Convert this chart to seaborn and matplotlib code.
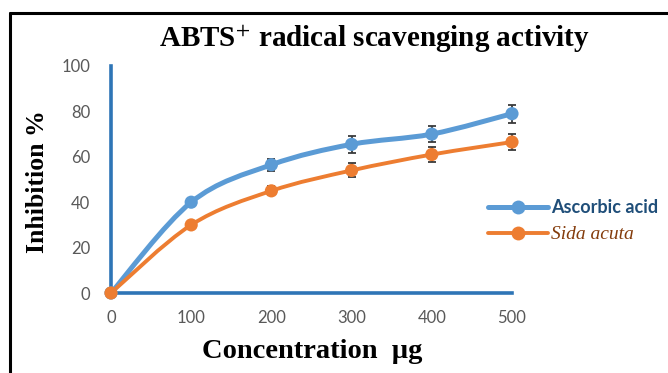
import numpy as np
import pandas as pd
import matplotlib
matplotlib.use("Agg")
import matplotlib.pyplot as plt
from matplotlib.path import Path
from matplotlib.patches import PathPatch
from matplotlib.lines import Line2D
import seaborn as sns

concentration = [0, 100, 200, 300, 400, 500]
ascorbic_acid = [0, 40, 56.5, 65.5, 70, 79]
ascorbic_err = [0, 1.0, 2.7, 3.8, 3.7, 3.9]
sida_acuta = [0, 30, 45, 54, 61, 66.5]
sida_err = [0, 1.0, 2.0, 3.1, 3.4, 3.5]
series_names = ["Ascorbic acid", "Sida acuta"]
x_ticks = [0, 100, 200, 300, 400, 500]
y_ticks = [0, 20, 40, 60, 80, 100]

BLUE = "#5B9BD5"
ORANGE = "#ED7D31"
AXIS_BLUE = "#2E75B6"

df = pd.DataFrame({
    "conc": concentration * 2,
    "value": ascorbic_acid + sida_acuta,
    "err": ascorbic_err + sida_err,
    "series": [series_names[0]] * 6 + [series_names[1]] * 6,
})

sns.set_style("white")
plt.rcParams["font.family"] = ["Lato", "DejaVu Sans"]

fig = plt.figure(figsize=(6.68, 3.73), dpi=100)
ax = fig.add_axes([111 / 668, 1 - 293 / 373, 401 / 668, 227 / 373])


def smooth_path(xs, ys, tension=1 / 6):
    """Cubic Bezier through the points (Catmull-Rom style smoothing)."""
    pts = np.column_stack([xs, ys]).astype(float)
    n = len(pts)
    verts = [pts[0]]
    codes = [Path.MOVETO]
    for i in range(n - 1):
        p0 = pts[i - 1] if i > 0 else pts[i]
        p1 = pts[i]
        p2 = pts[i + 1]
        p3 = pts[i + 2] if i + 2 < n else pts[i + 1]
        c1 = p1 + (p2 - p0) * tension
        c2 = p2 - (p3 - p1) * tension
        verts += [c1, c2, p2]
        codes += [Path.CURVE4] * 3
    return Path(verts, codes)


palette = {series_names[0]: BLUE, series_names[1]: ORANGE}
widths = {series_names[0]: 3.6, series_names[1]: 2.8}

for name in series_names:
    sub = df[df["series"] == name]
    patch = PathPatch(smooth_path(sub["conc"].values, sub["value"].values),
                      facecolor="none", edgecolor=palette[name],
                      lw=widths[name], clip_on=False, zorder=3,
                      capstyle="round", joinstyle="round")
    ax.add_patch(patch)
    ax.errorbar(sub["conc"], sub["value"], yerr=sub["err"], fmt="none",
                ecolor="#3A3A3A", elinewidth=1.3, capsize=3, capthick=1.3,
                zorder=4, clip_on=False)

sns.scatterplot(data=df, x="conc", y="value", hue="series", palette=palette,
                s=90, edgecolor="none", ax=ax, zorder=5, clip_on=False,
                legend=False)

ax.set_xlim(0, 500)
ax.set_ylim(0, 100)
ax.set_xticks(x_ticks)
ax.set_yticks(y_ticks)
ax.tick_params(axis="both", length=0, labelsize=12, colors="#595959")
ax.tick_params(axis="y", pad=15)
ax.tick_params(axis="x", pad=12)
for side in ["top", "right"]:
    ax.spines[side].set_visible(False)
for side in ["left", "bottom"]:
    ax.spines[side].set_color(AXIS_BLUE)
    ax.spines[side].set_linewidth(2.6)
ax.set_xlabel("")
ax.set_ylabel("")
ax.grid(False)

fig.text(312 / 668, 1 - 352 / 373, "Concentration  µg",
         family="Liberation Serif", weight="bold", fontsize=20.5,
         ha="center", va="center", color="black")
fig.text(38 / 668, 1 - 182 / 373, "Inhibition %", family="Liberation Serif",
         weight="bold", fontsize=18.5, rotation=90, ha="center", va="center",
         color="black")
fig.text(374 / 668, 1 - 47 / 373, "ABTS$^{+}$ radical scavenging activity",
         family="Liberation Serif", weight="bold", fontsize=21,
         ha="center", va="baseline", color="black", math_fontfamily="stix")

handles = [
    Line2D([], [], color=BLUE, lw=3.6, marker="o", markersize=10,
           markeredgecolor="none"),
    Line2D([], [], color=ORANGE, lw=2.8, marker="o", markersize=10,
           markeredgecolor="none"),
]
leg = fig.legend(handles, series_names, loc="center left",
                 bbox_to_anchor=(472 / 668, 1 - 221 / 373), frameon=False,
                 handlelength=3.3, handletextpad=0.2, labelspacing=0.55,
                 fontsize=13)
t1, t2 = leg.get_texts()
t1.set_color("#1F4E79")
t1.set_fontweight("bold")
t1.set_fontfamily("Lato")
t2.set_color("#843C0C")
t2.set_fontstyle("italic")
t2.set_fontfamily("Liberation Serif")
t2.set_fontsize(14)

# outer frame lines (top and left)
fig.add_artist(Line2D([10 / 668, 1.0], [1 - 12.5 / 373, 1 - 12.5 / 373],
                      transform=fig.transFigure, color="black", lw=2.2))
fig.add_artist(Line2D([10 / 668, 10 / 668], [0, 1 - 12.5 / 373],
                      transform=fig.transFigure, color="black", lw=2.2))

fig.savefig("out.png", dpi=100, facecolor="white")
